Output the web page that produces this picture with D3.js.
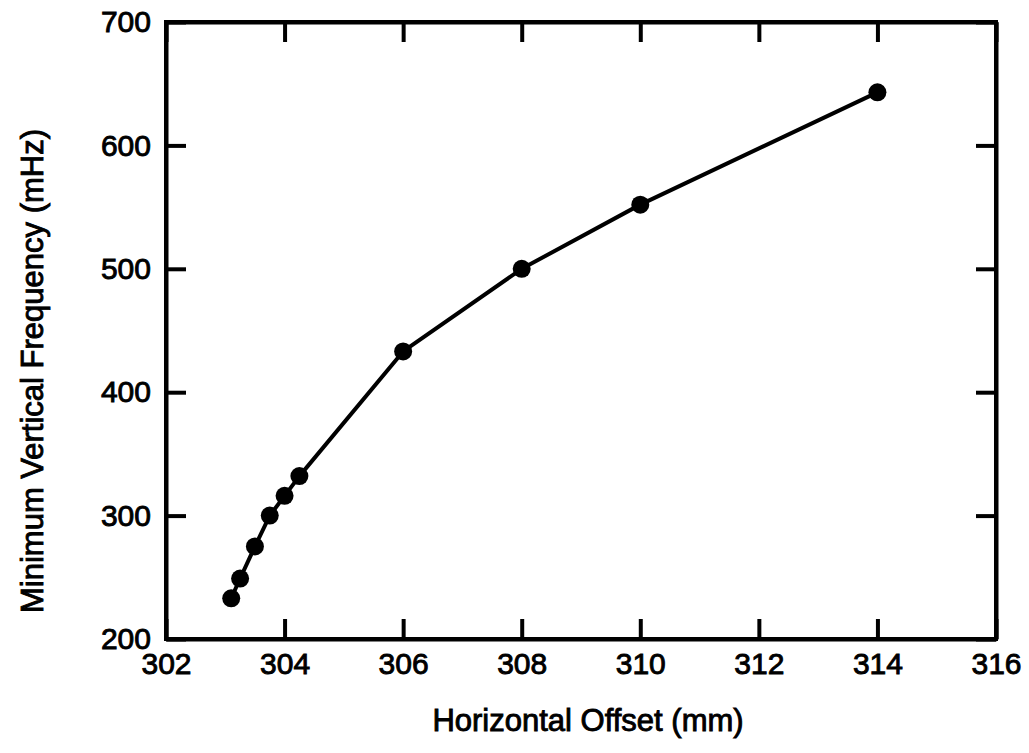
<!DOCTYPE html>
<html>
<head>
<meta charset="utf-8">
<script src="https://cdn.jsdelivr.net/npm/d3@7"></script>
<style>
  body { margin: 0; background: #fff; }
  text { font-family: "Liberation Sans", Arial, Helvetica, sans-serif; fill: #000; stroke: #000; stroke-width: 0.9px; }
</style>
</head>
<body>
<div id="chart"></div>
<script>
// data
var offsets = [303.1, 303.25, 303.5, 303.75, 304, 304.25, 306, 308, 310, 314],
    freqs = [233, 249, 275, 300, 316, 332, 433, 500, 552, 643],
    xTicks = [302, 304, 306, 308, 310, 312, 314, 316],
    yTicks = [200, 300, 400, 500, 600, 700];

var width = 1029, height = 753,
    margin = { top: 22, right: 33, bottom: 114, left: 166 },
    w = width - margin.left - margin.right,
    h = height - margin.top - margin.bottom;

var svg = d3.select("#chart").append("svg")
    .attr("width", width)
    .attr("height", height);

var g = svg.append("g")
    .attr("transform", "translate(" + margin.left + "," + margin.top + ")");

var x = d3.scaleLinear().domain([302, 316]).range([0, w]),
    y = d3.scaleLinear().domain([200, 700]).range([h, 0]);

function styleAxis(sel) {
  sel.select(".domain").attr("stroke", "#000").attr("stroke-width", 4);
  sel.selectAll(".tick line").attr("stroke", "#000").attr("stroke-width", 4);
  sel.selectAll("text").style("font-size", "30px");
}

// bottom axis with labels, ticks pointing in
g.append("g")
  .attr("transform", "translate(0," + h + ")")
  .call(d3.axisBottom(x).tickValues(xTicks).tickFormat(d3.format("d"))
        .tickSizeInner(-20).tickSizeOuter(0).tickPadding(16))
  .call(styleAxis)
  .call(function(a) { a.selectAll("text").attr("y", 35).attr("dy", null); });

g.append("g")
  .call(d3.axisLeft(y).tickValues(yTicks).tickFormat(d3.format("d"))
        .tickSizeInner(-20).tickSizeOuter(0).tickPadding(15))
  .call(styleAxis);

g.append("g")
  .call(d3.axisTop(x).tickValues(xTicks).tickFormat("")
        .tickSizeInner(-20).tickSizeOuter(0))
  .call(styleAxis);

g.append("g")
  .attr("transform", "translate(" + w + ",0)")
  .call(d3.axisRight(y).tickValues(yTicks).tickFormat("")
        .tickSizeInner(-20).tickSizeOuter(0))
  .call(styleAxis);

// corners
g.append("rect")
  .attr("width", w).attr("height", h)
  .attr("fill", "none").attr("stroke", "#000").attr("stroke-width", 4);

var pts = offsets.map(function(d, i) { return [d, freqs[i]]; });

g.append("path")
  .datum(pts)
  .attr("fill", "none")
  .attr("stroke", "#000")
  .attr("stroke-width", 4)
  .attr("stroke-linejoin", "round")
  .attr("d", d3.line().x(function(d) { return x(d[0]); }).y(function(d) { return y(d[1]); }));

g.selectAll(".pt")
  .data(pts)
  .enter().append("circle")
    .attr("class", "pt")
    .attr("cx", function(d) { return x(d[0]); })
    .attr("cy", function(d) { return y(d[1]); })
    .attr("r", 9)
    .attr("fill", "#000");

svg.append("text")
  .attr("x", 588)
  .attr("y", 731)
  .attr("text-anchor", "middle")
  .style("font-size", "31px")
  .text("Horizontal Offset (mm)");

svg.append("text")
  .attr("transform", "translate(43,371) rotate(-90)")
  .attr("text-anchor", "middle")
  .style("font-size", "31px")
  .text("Minimum Vertical Frequency (mHz)");
</script>
</body>
</html>
